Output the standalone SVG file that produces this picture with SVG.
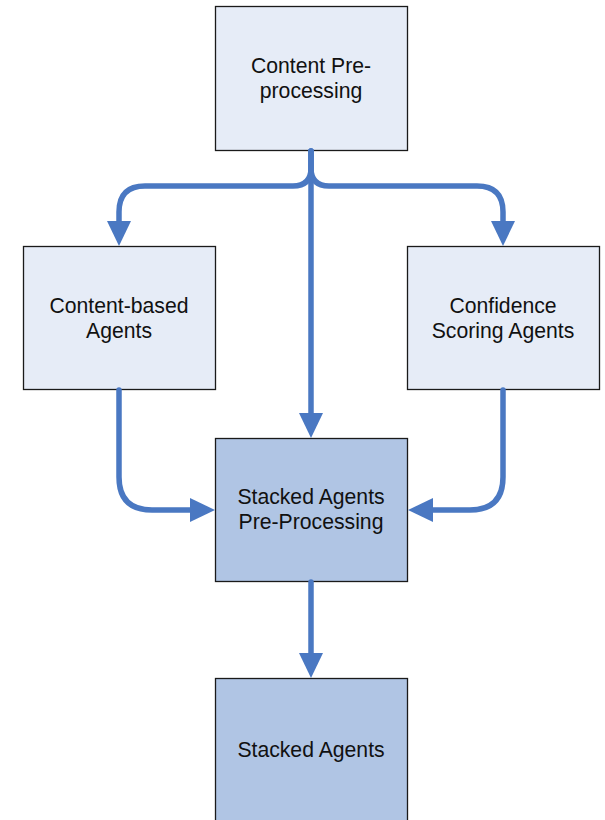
<svg xmlns="http://www.w3.org/2000/svg" width="605" height="820" viewBox="0 0 605 820">
<style>
.light{fill:#e6ecf7;stroke:#1a1a1a;stroke-width:1.3}
.dark{fill:#b0c5e4;stroke:#1a1a1a;stroke-width:1.3}
.t{font-family:"Liberation Sans",Arial,sans-serif;font-size:21.2px;fill:#111;text-anchor:middle}
.c{fill:none;stroke:#4a78c2;stroke-width:5.5;stroke-linecap:round}
.h{fill:#4a78c2}
</style>
<rect width="605" height="820" fill="#fff"/>
<g id="node-content-preprocessing">
<rect class="light" x="215.5" y="6.5" width="192" height="144"/>
<text class="t" x="311" y="73">Content Pre-</text>
<text class="t" x="311" y="98">processing</text>
</g>
<g id="node-content-based">
<rect class="light" x="23.5" y="246.5" width="192" height="143"/>
<text class="t" x="119" y="313">Content-based</text>
<text class="t" x="119" y="338">Agents</text>
</g>
<g id="node-confidence">
<rect class="light" x="407.5" y="246.5" width="192" height="143"/>
<text class="t" x="503" y="313">Confidence</text>
<text class="t" x="503" y="338">Scoring Agents</text>
</g>
<g id="node-stacked-pre">
<rect class="dark" x="215.5" y="438.5" width="192" height="143"/>
<text class="t" x="311" y="504">Stacked Agents</text>
<text class="t" x="311" y="529">Pre-Processing</text>
</g>
<g id="node-stacked">
<rect class="dark" x="215.5" y="678.5" width="192" height="150"/>
<text class="t" x="311" y="757">Stacked Agents</text>
</g>
<g id="connectors">
<path class="c" d="M311,151 V414"/>
<path class="h" d="M299,413 L323,413 L311,438 Z"/>
<path class="c" d="M311,151 V168 Q311,186 293,186 H145 Q119,186 119,212 V222"/>
<path class="h" d="M107,221 L131,221 L119,246 Z"/>
<path class="c" d="M311,151 V168 Q311,186 329,186 H477 Q503,186 503,212 V222"/>
<path class="h" d="M491,221 L515,221 L503,246 Z"/>
<path class="c" d="M119,390 V477 Q119,510 152,510 H191"/>
<path class="h" d="M190,498 L190,522 L215,510 Z"/>
<path class="c" d="M503,390 V477 Q503,510 470,510 H432"/>
<path class="h" d="M433,498 L433,522 L408,510 Z"/>
<path class="c" d="M311,582 V654"/>
<path class="h" d="M299,653 L323,653 L311,678 Z"/>
</g>
</svg>
